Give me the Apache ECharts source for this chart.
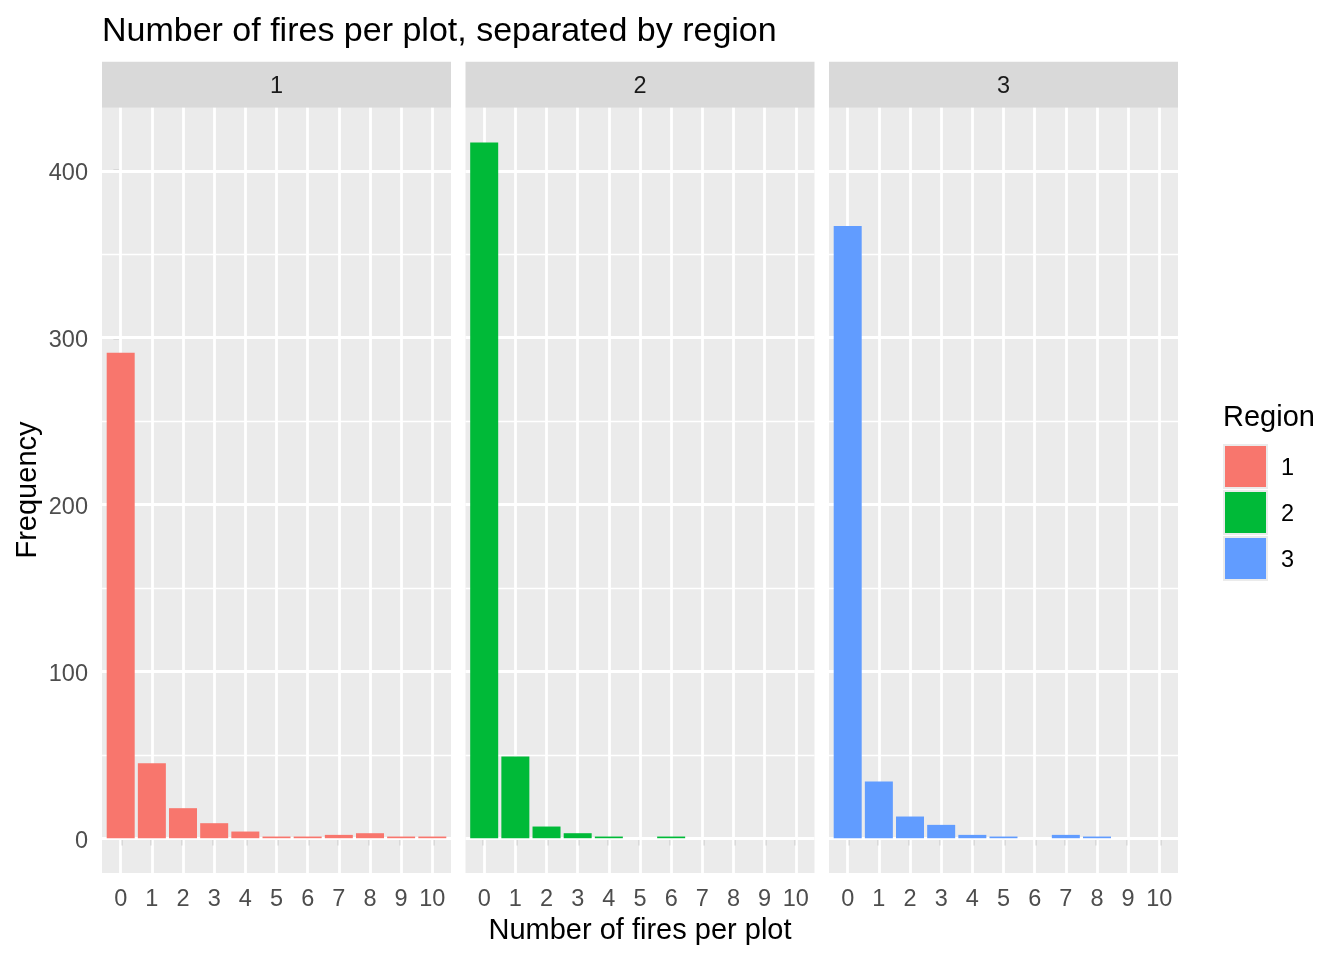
<!DOCTYPE html>
<html>
<head>
<meta charset="utf-8">
<script src="https://cdn.jsdelivr.net/npm/echarts@6/dist/echarts.min.js"></script>
<style>
html,body{margin:0;padding:0;background:#fff;}
#chart{width:1344px;height:960px;}
</style>
</head>
<body>
<div id="chart"></div>
<script>
// ---- data ----
var firesPerPlot = ['0','1','2','3','4','5','6','7','8','9','10'];
var regions = ['1','2','3'];
var region1 = [291, 45, 18, 9, 4, 1, 1, 2, 3, 1, 1];
var region2 = [417, 49, 7, 3, 1, 0, 1, 0, 0, 0, 0];
var region3 = [367, 34, 13, 8, 2, 1, 0, 2, 1, 0, 0];
var yTicks = [0, 100, 200, 300, 400];
var yMinor = [50, 150, 250, 350];
var regionColors = ['#F8766D', '#00BA38', '#619CFF'];

var regionValues = [region1, region2, region3];
var xVals = firesPerPlot.map(function (s) { return +s; });

// ---- layout ----
var panelLefts = [102, 465.5, 829];
var panelWidth = 349;
var panelTop = 107.7;
var panelBottom = 873;
var panelHeight = panelBottom - panelTop;
var yMax = 417 * 1.05;
var yMin = -417 * 0.05;
var FONT = '"Liberation Sans", Arial, sans-serif';

var grids = [], xAxes = [], yAxes = [], series = [], graphics = [];

regions.forEach(function (r, i) {
  grids.push({
    left: panelLefts[i], top: panelTop, width: panelWidth, height: panelHeight,
    show: true, backgroundColor: '#EBEBEB', borderWidth: 0, containLabel: false
  });
  xAxes.push({
    type: 'value', gridIndex: i, min: -0.6, max: 10.6,
    axisLine: { show: false },
    splitLine: { show: false },
    axisTick: { show: true, customValues: xVals, length: 7.3, lineStyle: { color: '#333333', width: 2.2 } },
    axisLabel: { show: true, customValues: xVals, color: '#4D4D4D', fontSize: 23.5, margin: 15, fontFamily: FONT,
      formatter: function (v) { return String(v); } }
  });
  yAxes.push({
    type: 'value', gridIndex: i, min: yMin, max: yMax,
    show: i === 0,
    axisLine: { show: false },
    splitLine: { show: false },
    axisTick: { show: i === 0, customValues: yTicks, length: 7.3, lineStyle: { color: '#333333', width: 2.2 } },
    axisLabel: { show: i === 0, customValues: yTicks, margin: 14,
      formatter: function (v) { return '{t|' + v + '}'; },
      rich: { t: { color: '#4D4D4D', fontSize: 23.5, fontFamily: FONT, padding: [6, 0, 0, 0] } } }
  });
  var gridLines = [];
  xVals.forEach(function (v) { gridLines.push({ xAxis: v, lineStyle: { width: 2.8 } }); });
  yTicks.forEach(function (v) { gridLines.push({ yAxis: v, lineStyle: { width: 2.8 } }); });
  yMinor.forEach(function (v) { gridLines.push({ yAxis: v, lineStyle: { width: 1.4 } }); });
  series.push({
    name: r, type: 'bar', xAxisIndex: i, yAxisIndex: i, z: 3,
    barWidth: 28,
    itemStyle: { color: regionColors[i] },
    data: regionValues[i].map(function (v, k) { return [xVals[k], v]; }),
    silent: true,
    markLine: {
      z: 1, silent: true, symbol: ['none', 'none'],
      label: { show: false },
      lineStyle: { color: '#FFFFFF', type: 'solid' },
      emphasis: { disabled: true },
      data: gridLines
    }
  });
  graphics.push({
    type: 'rect', shape: { x: panelLefts[i], y: 61.7, width: panelWidth, height: panelTop - 61.7 },
    style: { fill: '#D9D9D9' }, silent: true
  });
  graphics.push({
    type: 'text', x: panelLefts[i] + panelWidth / 2, y: 87,
    style: { text: r, fill: '#1A1A1A', fontSize: 23.5, fontFamily: FONT, textAlign: 'center', textVerticalAlign: 'middle' },
    silent: true
  });
});

graphics.push({
  type: 'text', x: 28, y: 490, rotation: Math.PI / 2,
  style: { text: 'Frequency', fill: '#000000', fontSize: 29, fontFamily: FONT, textAlign: 'center', textVerticalAlign: 'middle' },
  silent: true
});
graphics.push({
  type: 'text', x: 640, y: 931,
  style: { text: 'Number of fires per plot', fill: '#000000', fontSize: 29, fontFamily: FONT, textAlign: 'center', textVerticalAlign: 'middle' },
  silent: true
});
graphics.push({
  type: 'text', x: 1223, y: 418,
  style: { text: 'Region', fill: '#000000', fontSize: 29, fontFamily: FONT, textAlign: 'left', textVerticalAlign: 'middle' },
  silent: true
});

var chart = echarts.init(document.getElementById('chart'), null, { renderer: 'canvas' });
chart.setOption({
  animation: false,
  backgroundColor: '#FFFFFF',
  textStyle: { fontFamily: FONT },
  title: {
    text: 'Number of fires per plot, separated by region',
    left: 102, top: 15, padding: 0,
    textStyle: { fontSize: 34, fontWeight: 'normal', color: '#000000', fontFamily: FONT }
  },
  legend: {
    data: regions,
    orient: 'vertical',
    left: 1223, top: 444, padding: 0,
    itemWidth: 43, itemHeight: 43, itemGap: 1,
    icon: 'rect',
    selectedMode: false,
    itemStyle: { borderColor: '#EBEBEB', borderWidth: 2 },
    formatter: function (name) { return '{t|' + name + '}'; },
    textStyle: { rich: { t: { fontSize: 23.5, color: '#000000', fontFamily: FONT, padding: [5, 0, 0, 9] } } }
  },
  grid: grids,
  xAxis: xAxes,
  yAxis: yAxes,
  series: series,
  graphic: graphics
});
</script>
</body>
</html>
